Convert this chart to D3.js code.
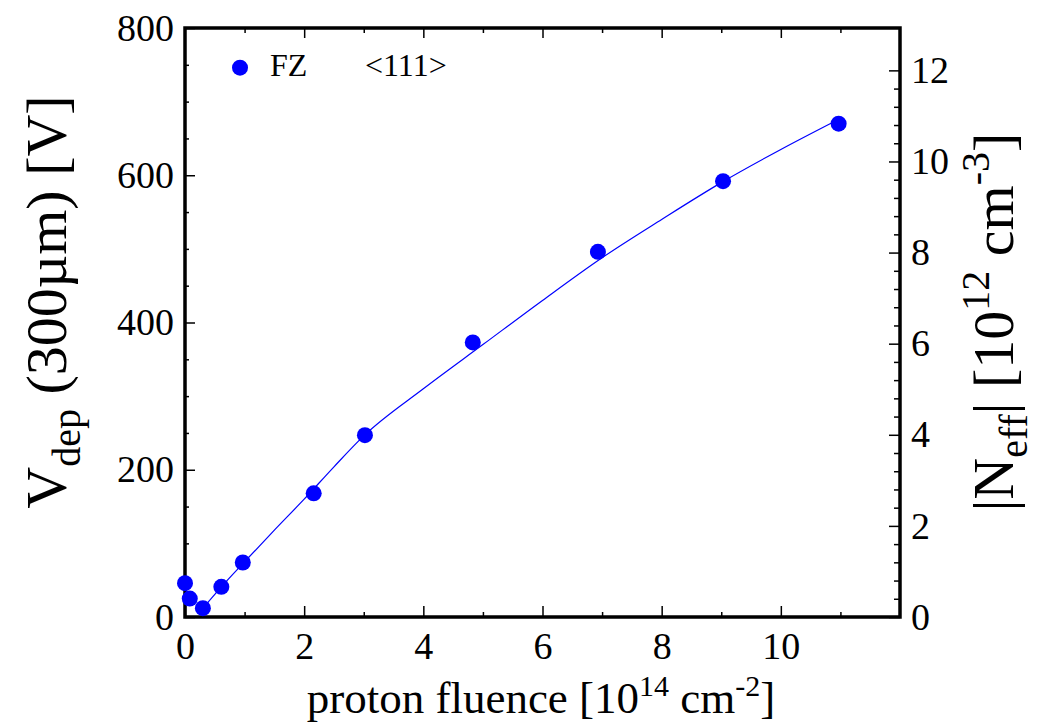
<!DOCTYPE html>
<meta charset="utf-8">
<script src="https://d3js.org/d3.v7.min.js"></script>
<style>
  body { margin: 0; background: #fff; }
  text { font-family: "Liberation Serif", "Times New Roman", serif; fill: #000; }
</style>
<div id="my_dataviz"></div>
<script>

// measured points: proton fluence [1e14 cm^-2] vs depletion voltage [V]
const fluence = [0, 0.08, 0.3, 0.61, 0.97, 2.16, 3.02, 4.83, 6.93, 9.03, 10.97];
const vdep    = [46, 25, 12, 41, 74, 168, 247, 373, 496, 592, 670];

// fit curve
const fitFluence = [0.3, 0.6, 1.0, 1.5, 2.0, 2.5, 3.0, 4.0, 5.0, 6.0, 7.0, 8.0, 9.0, 10.0, 10.9];
const fitVdep    = [12, 40, 75, 118, 160, 204, 246, 310, 370, 430, 488, 540, 590, 635, 673];

// ticks
const xTicks = [0, 2, 4, 6, 8, 10];
const yTicks = [0, 200, 400, 600, 800];
const nTicks = [0, 2, 4, 6, 8, 10, 12];

const legendLabel = "FZ";
const legendOrient = "<111>";

// set the dimensions and margins of the graph
let margin = {top: 28, right: 138, bottom: 106, left: 185},
    width = 1038 - margin.left - margin.right,
    height = 723 - margin.top - margin.bottom;

let svg = d3.select("#my_dataviz")
  .append("svg")
    .attr("width", 1038)
    .attr("height", 723)
  .append("g")
    .attr("transform", "translate(" + margin.left + "," + margin.top + ")");

let x = d3.scaleLinear().domain([0, 12]).range([0, width]);
let y = d3.scaleLinear().domain([0, 800]).range([height, 0]);
// |Neff| for 300um, same pixels as y
let yN = d3.scaleLinear().domain([0, 12.93]).range([height, 0]);

const tickFont = "38px";

// bottom axis: majors with labels, minors every 1
svg.append("g")
    .attr("transform", "translate(0," + height + ")")
    .call(d3.axisBottom(x).tickValues(d3.range(1, 12, 2)).tickSize(-5).tickFormat(""));
svg.append("g")
    .attr("class", "major")
    .attr("transform", "translate(0," + height + ")")
    .call(d3.axisBottom(x).tickValues(xTicks).tickSize(-11).tickPadding(15));

// top axis mirror
svg.append("g")
    .call(d3.axisTop(x).tickValues(d3.range(1, 12, 2)).tickSize(-5).tickFormat(""));
svg.append("g")
    .call(d3.axisTop(x).tickValues(d3.range(2, 12, 2)).tickSize(-10).tickFormat(""));

// left axis
svg.append("g")
    .call(d3.axisLeft(y).tickValues(d3.range(50, 800, 50).filter(d => d % 200 != 0)).tickSize(-4).tickFormat(""));
svg.append("g")
    .attr("class", "major")
    .call(d3.axisLeft(y).tickValues(yTicks).tickSize(-10).tickPadding(11));

// right axis (Neff)
svg.append("g")
    .attr("transform", "translate(" + width + ",0)")
    .call(d3.axisRight(yN).tickValues(d3.range(0.4, 12, 0.4).filter(d => Math.abs(d / 2 - Math.round(d / 2)) > 0.01)).tickSize(-6).tickFormat(""));
svg.append("g")
    .attr("class", "major")
    .attr("transform", "translate(" + width + ",0)")
    .call(d3.axisRight(yN).tickValues(nTicks).tickSize(-11).tickPadding(11));

svg.selectAll(".domain").remove();
svg.selectAll(".tick line").attr("stroke", "#000").attr("stroke-width", 1.5);
svg.selectAll(".major .tick text").style("font-size", tickFont).attr("fill", "#000");

// frame
svg.append("rect")
    .attr("width", width)
    .attr("height", height)
    .attr("fill", "none")
    .attr("stroke", "#000")
    .attr("stroke-width", 3.5);

// fit line
let fit = fitFluence.map((f, i) => [f, fitVdep[i]]);
svg.append("path")
    .datum(fit)
    .attr("fill", "none")
    .attr("stroke", "#0000ff")
    .attr("stroke-width", 1.2)
    .attr("d", d3.line().curve(d3.curveMonotoneX).x(d => x(d[0])).y(d => y(d[1])));

// points
let pts = fluence.map((f, i) => [f, vdep[i]]);
svg.selectAll("circle.pt")
    .data(pts)
  .enter()
  .append("circle")
    .attr("class", "pt")
    .attr("cx", d => x(d[0]))
    .attr("cy", d => y(d[1]))
    .attr("r", 8)
    .style("fill", "#0000ff");

// legend
let root = d3.select("svg");
root.append("circle").attr("cx", 240).attr("cy", 67.7).attr("r", 8).style("fill", "#0000ff");
root.append("text").attr("x", 270).attr("y", 76).style("font-size", "32px").text(legendLabel);
root.append("text").attr("x", 365).attr("y", 76).style("font-size", "32px").text(legendOrient);

// x label
let xl = root.append("text")
    .attr("x", 541).attr("y", 713)
    .attr("text-anchor", "middle")
    .style("font-size", "45px");
xl.append("tspan").text("proton fluence [10");
xl.append("tspan").attr("dy", -17).style("font-size", "30px").text("14");
xl.append("tspan").attr("dy", 17).text(" cm");
xl.append("tspan").attr("dy", -17).style("font-size", "30px").text("-2");
xl.append("tspan").attr("dy", 17).text("]");

// left label
let yl = root.append("text")
    .attr("transform", "rotate(-90)")
    .attr("x", -302).attr("y", 66)
    .attr("text-anchor", "middle")
    .style("font-size", "58px");
yl.append("tspan").text("V");
yl.append("tspan").attr("dy", 14).style("font-size", "40px").text("dep");
yl.append("tspan").attr("dy", -14).text(" (300µm) [V]");

// right label
let rl = root.append("text")
    .attr("transform", "rotate(-90)")
    .attr("x", -322).attr("y", 1013)
    .attr("text-anchor", "middle")
    .style("font-size", "58px");
rl.append("tspan").text("|N");
rl.append("tspan").attr("dy", 14).style("font-size", "40px").text("eff");
rl.append("tspan").attr("dy", -14).text("| [10");
rl.append("tspan").attr("dy", -24).style("font-size", "40px").text("12");
rl.append("tspan").attr("dy", 24).text(" cm");
rl.append("tspan").attr("dy", -24).style("font-size", "40px").text("-3");
rl.append("tspan").attr("dy", 24).text("]");

</script>
